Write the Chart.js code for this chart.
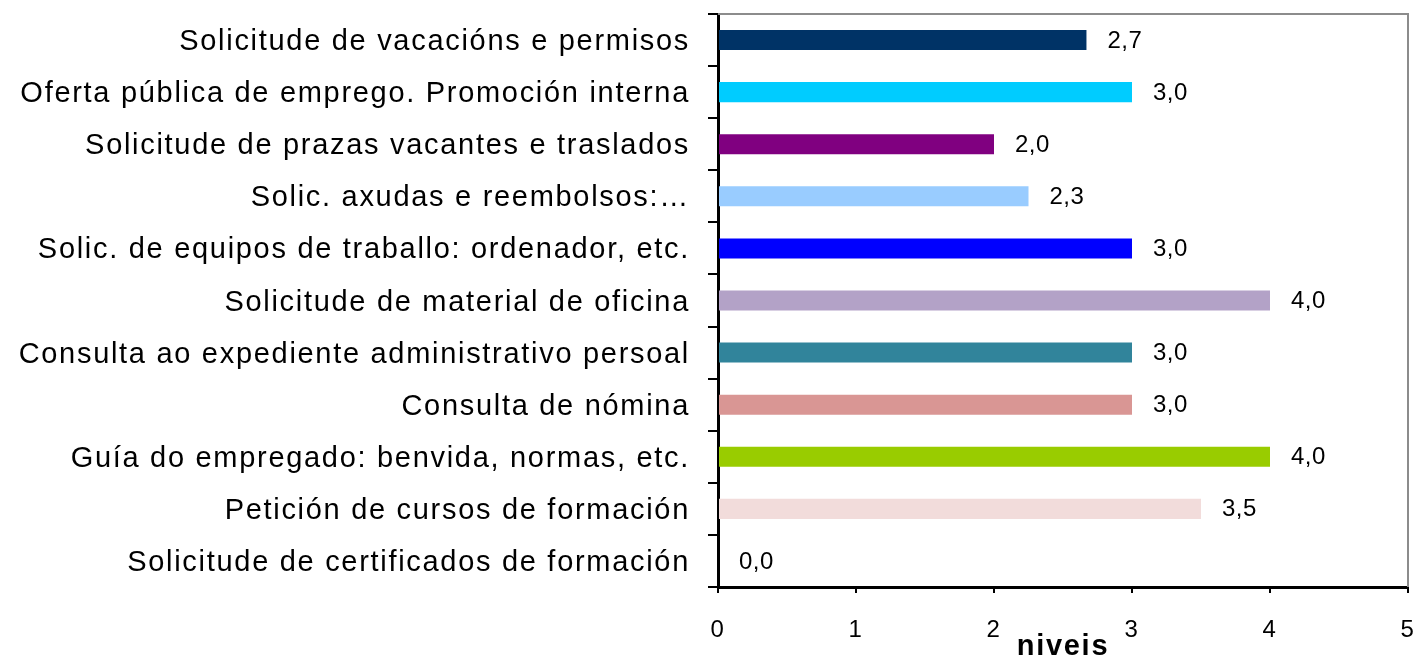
<!DOCTYPE html>
<html>
<head>
<meta charset="utf-8">
<script src="https://cdn.jsdelivr.net/npm/chart.js@4"></script>
<style>
    html, body { margin: 0; padding: 0; background: #fff; }
    #wrap { width: 1417px; height: 664px; position: relative; }
</style>
</head>
<body>
<div id="wrap"><canvas id="chart"></canvas></div>
<script>
const categories = [
    'Solicitude de vacacións e permisos',
    'Oferta pública de emprego. Promoción interna',
    'Solicitude de prazas vacantes e traslados',
    'Solic. axudas e reembolsos:…',
    'Solic. de equipos de traballo: ordenador, etc.',
    'Solicitude de material de oficina',
    'Consulta ao expediente administrativo persoal',
    'Consulta de nómina',
    'Guía do empregado: benvida, normas, etc.',
    'Petición de cursos de formación',
    'Solicitude de certificados de formación'
];
const values = [2.67, 3.0, 2.0, 2.25, 3.0, 4.0, 3.0, 3.0, 4.0, 3.5, 0.0];
const barColors = [
    '#003366', '#00CCFF', '#800080', '#99CCFF', '#0000FF', '#B3A2C7',
    '#31849B', '#D99694', '#99CC00', '#F2DCDB', '#FFFFFF'
];
const xTicks = [0, 1, 2, 3, 4, 5];
const axisTitle = 'niveis';

const FONT = "'Liberation Sans', Arial, sans-serif";

// wider letter spacing like the original office rendering
const spacing = {
    id: 'spacing',
    beforeDraw(chart) {
        chart.ctx.letterSpacing = '1.7px';
    }
};

// value labels at the end of each bar, comma decimal
const valueLabels = {
    id: 'valueLabels',
    afterDatasetsDraw(chart) {
        const ctx = chart.ctx;
        const meta = chart.getDatasetMeta(0);
        ctx.save();
        ctx.letterSpacing = '0.5px';
        ctx.font = '24px ' + FONT;
        ctx.fillStyle = '#000';
        ctx.textAlign = 'left';
        ctx.textBaseline = 'middle';
        meta.data.forEach((bar, i) => {
            const txt = values[i].toFixed(1).replace('.', ',');
            ctx.fillText(txt, bar.x + 21, bar.y + 1);
        });
        ctx.restore();
    }
};

// gray top and right frame lines
const frame = {
    id: 'frame',
    beforeDatasetsDraw(chart) {
        const a = chart.chartArea;
        const ctx = chart.ctx;
        ctx.save();
        ctx.strokeStyle = '#8c8c8c';
        ctx.lineWidth = 2;
        ctx.beginPath();
        ctx.moveTo(a.left, a.top);
        ctx.lineTo(a.right, a.top);
        ctx.lineTo(a.right, a.bottom);
        ctx.stroke();
        ctx.restore();
    }
};

new Chart(document.getElementById('chart'), {
    type: 'bar',
    data: {
        labels: categories,
        datasets: [{
            data: values,
            backgroundColor: barColors,
            borderWidth: 0,
            barPercentage: 0.77,
            categoryPercentage: 0.5
        }]
    },
    options: {
        indexAxis: 'y',
        responsive: true,
        maintainAspectRatio: false,
        animation: false,
        layout: { padding: { top: 14, right: 9, left: 0, bottom: 0 } },
        plugins: {
            legend: { display: false },
            tooltip: { enabled: false }
        },
        scales: {
            x: {
                min: 0,
                max: 5,
                afterBuildTicks: s => { s.ticks = xTicks.map(v => ({ value: v })); },
                afterFit: s => {
                    s.height = 664 - 587;
                    s.paddingLeft = 0;
                    s.paddingRight = 0;
                },
                border: { color: '#000', width: 3 },
                grid: {
                    drawOnChartArea: false,
                    color: '#000',
                    lineWidth: 2,
                    tickLength: 6
                },
                ticks: {
                    color: '#000',
                    font: { family: FONT, size: 24 },
                    padding: 23,
                    maxRotation: 0
                },
                title: {
                    display: true,
                    text: axisTitle,
                    color: '#000',
                    font: { family: FONT, size: 29, weight: 'bold' },
                    padding: { top: -9, bottom: 0 }
                }
            },
            y: {
                afterFit: s => {
                    s.width = 718;
                    s.paddingTop = 0;
                    s.paddingBottom = 0;
                },
                border: { color: '#000', width: 3 },
                grid: {
                    offset: true,
                    drawOnChartArea: false,
                    color: '#000',
                    lineWidth: 2,
                    tickLength: 10
                },
                ticks: {
                    color: '#000',
                    font: { family: FONT, size: 29 },
                    padding: 18,
                    labelOffset: 2,
                    autoSkip: false
                }
            }
        }
    },
    plugins: [spacing, frame, valueLabels]
});
</script>
</body>
</html>
